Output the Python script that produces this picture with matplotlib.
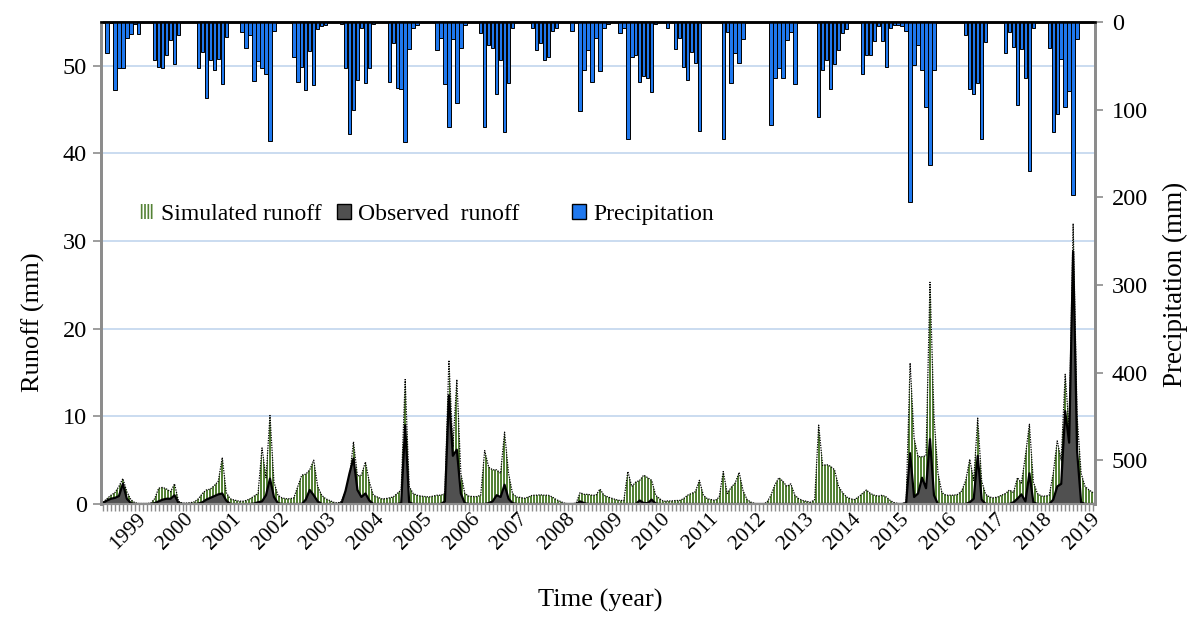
import matplotlib
matplotlib.use('Agg')
import matplotlib.pyplot as plt
import numpy as np
from matplotlib.patches import Patch
from matplotlib.colors import ListedColormap

plt.rcParams['font.family'] = ['Liberation Serif', 'DejaVu Serif']
plt.rcParams['hatch.linewidth'] = 1.2

# ---------------- data (monthly, 250 months) ----------------
year_labels = [str(y) for y in range(1999, 2020)]
year_label_index = [9 + 12 * k for k in range(21)]

precip = [
    0, 35, 1, 78, 53, 53, 18, 14, 2, 14, 0, 0,
    0, 43, 51, 52, 38, 20, 48, 15, 0, 0, 0, 0,
    53, 34, 87, 43, 55, 42, 71, 17, 0, 0, 0, 11,
    30, 15, 67, 45, 52, 59, 136, 10, 0, 0, 0, 0,
    40, 68, 51, 78, 33, 72, 8, 5, 3, 0, 0, 0,
    2, 52, 128, 100, 66, 7, 70, 52, 2, 0, 0, 0,
    68, 24, 75, 76, 137, 31, 7, 3, 0, 0, 0, 0,
    32, 18, 71, 120, 19, 92, 30, 3, 0, 0, 0, 13,
    120, 26, 30, 82, 43, 126, 70, 7, 0, 0, 0, 0,
    7, 32, 24, 43, 40, 10, 7, 0, 0, 0, 10, 0,
    101, 55, 32, 68, 18, 56, 7, 2, 0, 0, 13, 7,
    134, 40, 38, 69, 62, 64, 80, 2, 0, 0, 7, 0,
    31, 18, 51, 66, 34, 47, 124, 0, 0, 0, 0, 0,
    133, 11, 70, 35, 47, 19, 0, 0, 0, 0, 0, 0,
    117, 64, 53, 64, 20, 11, 71, 0, 0, 0, 0, 0,
    108, 55, 43, 77, 48, 32, 13, 8, 0, 0, 0, 59,
    38, 38, 22, 5, 22, 51, 7, 3, 3, 4, 10, 205,
    49, 26, 55, 97, 163, 55, 0, 0, 0, 0, 0, 0,
    0, 15, 76, 82, 70, 134, 23, 0, 0, 0, 0, 35,
    11, 28, 95, 31, 64, 170, 7, 0, 0, 0, 30, 126,
    105, 42, 97, 79, 197, 19, 0, 0, 0, 0,
]

sim_runoff = [
    0.2, 0.6, 1.0, 1.3, 2.0, 2.9, 1.4, 0.5, 0.15, 0.05, 0.05, 0.05,
    0.1, 0.6, 1.8, 1.9, 1.7, 1.4, 2.3, 0.3, 0.1, 0.1, 0.15, 0.25,
    0.6, 1.2, 1.6, 1.7, 2.1, 2.6, 5.3, 1.3, 0.6, 0.45, 0.35, 0.3,
    0.4, 0.6, 0.9, 1.2, 6.4, 3.0, 10.1, 2.5, 1.0, 0.7, 0.6, 0.6,
    0.7, 2.0, 3.3, 3.4, 3.9, 5.0, 2.0, 1.0, 0.6, 0.4, 0.2, 0.1,
    0.3, 1.5, 3.0, 7.1, 3.2, 3.3, 4.8, 2.5, 1.0, 0.8, 0.6, 0.6,
    0.7, 0.8, 1.2, 1.6, 14.2, 2.0, 1.2, 1.0, 0.9, 0.85, 0.8, 0.9,
    1.0, 1.0, 1.2, 16.4, 6.5, 14.2, 3.5, 1.2, 0.9, 0.85, 0.85, 1.0,
    6.1, 4.2, 3.9, 3.9, 3.5, 8.2, 3.5, 1.2, 0.8, 0.75, 0.65, 0.8,
    1.0, 1.0, 1.05, 1.0, 1.0, 0.8, 0.5, 0.3, 0.1, 0.02, 0.02, 0.1,
    1.3, 1.1, 1.1, 1.0, 1.0, 1.7, 1.0, 0.8, 0.65, 0.5, 0.4, 0.4,
    3.7, 2.0, 2.5, 2.7, 3.3, 3.0, 2.7, 1.0, 0.6, 0.3, 0.35, 0.35,
    0.4, 0.4, 0.6, 1.0, 1.2, 1.4, 2.7, 1.0, 0.6, 0.5, 0.4, 0.8,
    3.7, 1.2, 1.9, 2.4, 3.6, 1.5, 0.5, 0.2, 0.05, 0.0, 0.0, 0.2,
    1.0, 2.2, 3.0, 2.6, 2.0, 2.3, 1.0, 0.6, 0.4, 0.3, 0.2, 0.5,
    9.0, 4.4, 4.5, 4.3, 3.9, 2.0, 1.3, 0.8, 0.6, 0.5, 0.8, 1.2,
    1.6, 1.2, 1.0, 0.9, 1.0, 0.8, 0.4, 0.15, 0.05, 0.02, 0.2, 16.1,
    7.5, 5.4, 5.4, 5.5, 25.3, 10.0, 3.5, 1.3, 1.0, 1.0, 1.0, 1.1,
    1.5, 2.7, 5.1, 2.7, 9.8, 2.6, 1.1, 0.8, 0.7, 0.8, 1.0, 1.2,
    1.6, 1.3, 3.0, 2.4, 5.5, 9.1, 2.5, 1.2, 0.9, 0.9, 1.0, 3.5,
    7.2, 5.0, 14.8, 8.5, 32.0, 10.0, 3.5, 2.0, 1.6, 1.3,
]

obs_runoff = [
    0.1, 0.4, 0.6, 0.7, 0.9, 2.3, 0.6, 0.1, 0, 0, 0, 0,
    0, 0.1, 0.3, 0.5, 0.6, 0.6, 1.0, 0.1, 0, 0, 0, 0,
    0.05, 0.2, 0.5, 0.7, 0.9, 1.1, 1.2, 0.4, 0, 0, 0, 0,
    0, 0, 0.05, 0.2, 0.3, 1.0, 2.9, 0.8, 0.1, 0, 0, 0,
    0, 0, 0, 0.5, 1.6, 1.0, 0.3, 0, 0, 0, 0, 0,
    0.1, 1.5, 3.5, 5.2, 1.6, 0.8, 1.2, 0.4, 0, 0, 0, 0,
    0, 0, 0, 0.1, 9.0, 0.2, 0, 0, 0, 0, 0, 0,
    0, 0, 0.3, 12.4, 5.5, 6.2, 1.2, 0.1, 0, 0, 0, 0,
    0, 0.1, 0.3, 1.0, 0.8, 2.2, 0.6, 0.1, 0, 0, 0, 0,
    0, 0, 0, 0, 0, 0, 0, 0, 0, 0, 0, 0,
    0.3, 0.1, 0, 0, 0, 0, 0, 0, 0, 0, 0, 0,
    0, 0, 0, 0.4, 0.1, 0.1, 0.5, 0.05, 0, 0, 0, 0,
    0, 0, 0, 0, 0, 0, 0, 0, 0, 0, 0, 0,
    0, 0, 0, 0, 0, 0, 0, 0, 0, 0, 0, 0,
    0, 0, 0, 0, 0, 0, 0, 0, 0, 0, 0, 0,
    0, 0, 0, 0, 0, 0, 0, 0, 0, 0, 0, 0,
    0, 0, 0, 0, 0, 0, 0, 0, 0, 0, 0.1, 5.8,
    0.8, 1.2, 3.0, 1.8, 7.4, 1.0, 0, 0, 0, 0, 0, 0,
    0, 0, 0.2, 0.6, 5.5, 0.5, 0, 0, 0, 0, 0, 0,
    0, 0.2, 0.6, 1.1, 0.3, 3.5, 0.2, 0, 0, 0, 0, 0.5,
    2.0, 2.3, 10.6, 7.0, 28.8, 6.0, 0.2, 0, 0, 0,
]

months = np.arange(len(sim_runoff))

# ---------------- figure ----------------
W, H = 1195, 623
fig = plt.figure(figsize=(W / 100, H / 100), dpi=100)
ax = fig.add_axes([101 / W, 1 - 504 / H, 994 / W, 482 / H])
ax2 = ax.twinx()

grid_col = '#c6d9ef'
spine_gray = '#8c8c8c'
green = '#548235'
obs_col = '#505050'
blue = '#1f78ee'
x0, x1 = -0.5, len(months) - 0.5

# simulated runoff: striped area (green/white pixel columns) with dotted outline
sim_poly = ax.fill_between(months, sim_runoff, 0, facecolor='none',
                           linewidth=0, zorder=2)
stripes = (np.arange(994) % 3 == 2).astype(int)[None, :]
im = ax.imshow(stripes, cmap=ListedColormap([green, 'white']),
               extent=(x0, x1, 0, 55), aspect='auto',
               interpolation='nearest', zorder=2)
im.set_clip_path(sim_poly.get_paths()[0], transform=ax.transData)
ax.plot(months, sim_runoff, color='black', ls=(0, (1, 1)), lw=0.9, zorder=3)

# observed runoff
ax.fill_between(months, obs_runoff, 0, facecolor=obs_col, linewidth=0, zorder=4)
ax.plot(months, obs_runoff, color='black', lw=1.6, zorder=5)

ax.set_xlim(x0, x1)
ax.set_ylim(0, 55)
ax.set_yticks(range(0, 51, 10))
ax.yaxis.grid(True, color=grid_col, lw=1.3)
ax.set_axisbelow(True)

# x ticks: a mark every month, year labels drawn as rotated annotations
ax.set_xticks(year_label_index)
ax.set_xticklabels([''] * len(year_label_index))
ax.set_xticks(months, minor=True)
ax.tick_params(axis='x', which='both', direction='out', length=5,
               color=spine_gray, width=1, pad=4)
xtrans = ax.get_xaxis_transform()
for idx, lab in zip(year_label_index, year_labels):
    ax.annotate(lab, xy=(idx, 0), xycoords=xtrans, xytext=(3, -9),
                textcoords='offset points', rotation=45, ha='right',
                va='center', rotation_mode='anchor', fontsize=15.5,
                annotation_clip=False)

ax.tick_params(axis='y', direction='out', length=6, color=spine_gray,
               width=1.2, labelsize=17.5, pad=4)

# precipitation (hanging bars on inverted right axis)
ax2.bar(months, precip, width=0.86, color=blue, edgecolor='black',
        linewidth=0.7, zorder=2)
ax2.set_ylim(550, 0)
ax2.set_yticks(range(0, 501, 100))
ax2.tick_params(axis='y', direction='out', length=6, color=spine_gray,
                width=1.2, labelsize=17.5, pad=6)

for a in (ax, ax2):
    for s in ('left', 'right'):
        a.spines[s].set_color(spine_gray)
        a.spines[s].set_linewidth(2)
    a.spines['bottom'].set_color(spine_gray)
    a.spines['bottom'].set_linewidth(1.5)
    a.spines['top'].set_color('black')
    a.spines['top'].set_linewidth(1.8)

ax.set_ylabel('Runoff (mm)', fontsize=19)
ax.yaxis.set_label_coords(-0.056, 0.378)
ax2.set_ylabel('Precipitation (mm)', fontsize=19.5)
ax2.yaxis.set_label_coords(1.068, 0.456)
ax.set_xlabel('Time (year)', fontsize=19)
ax.xaxis.set_label_coords(0.502, -0.176)

# legend: three single-entry legends placed like the original
entries = [
    (Patch(facecolor='white', edgecolor=green, hatch='|' * 5, linewidth=0),
     'Simulated runoff', 0.0392),
    (Patch(facecolor=obs_col, edgecolor='black', linewidth=1.0),
     'Observed  runoff', 0.2374),
    (Patch(facecolor=blue, edgecolor='black', linewidth=1.0),
     'Precipitation', 0.4738),
]
for i, (h, lab, xpos) in enumerate(entries):
    lg = ax2.legend([h], [lab], loc='center left', frameon=False,
                    bbox_to_anchor=(xpos, 0.6), fontsize=17,
                    handlelength=0.6, handleheight=0.6, handletextpad=0.3,
                    borderpad=0, borderaxespad=0)
    if i < len(entries) - 1:
        ax2.add_artist(lg)

fig.savefig('out.png', dpi=100)
